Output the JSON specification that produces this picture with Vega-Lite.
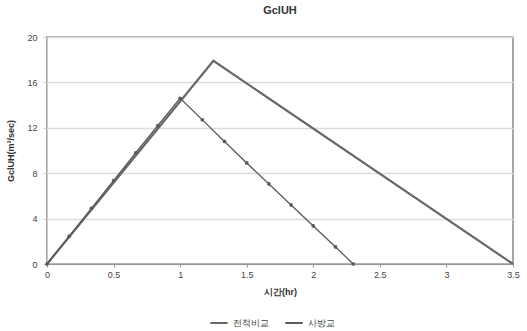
{
  "$schema": "https://vega.github.io/schema/vega-lite/v6.json",
  "autosize": "none",
  "width": 466,
  "height": 227,
  "padding": {"left": 47, "top": 37, "right": 14, "bottom": 67},
  "background": "white",
  "config": {
    "font": "Liberation Sans",
    "view": {"stroke": "#8a8a8a", "strokeWidth": 1.5}
  },
  "title": {"text": "GclUH", "fontSize": 11, "fontWeight": "bold", "color": "#333", "anchor": "middle", "offset": 17, "font": "Liberation Sans"},
  "data": {
    "values": [
      {"t": 0, "q": 0, "s": "전적비교"},
      {"t": 1.25, "q": 17.9, "s": "전적비교"},
      {"t": 3.5, "q": 0, "s": "전적비교"},
      {"t": 0, "q": 0, "s": "사방교"},
      {"t": 0.167, "q": 2.45, "s": "사방교"},
      {"t": 0.333, "q": 4.9, "s": "사방교"},
      {"t": 0.5, "q": 7.35, "s": "사방교"},
      {"t": 0.667, "q": 9.8, "s": "사방교"},
      {"t": 0.833, "q": 12.2, "s": "사방교"},
      {"t": 1.0, "q": 14.6, "s": "사방교"},
      {"t": 1.167, "q": 12.7, "s": "사방교"},
      {"t": 1.333, "q": 10.8, "s": "사방교"},
      {"t": 1.5, "q": 8.9, "s": "사방교"},
      {"t": 1.667, "q": 7.05, "s": "사방교"},
      {"t": 1.833, "q": 5.2, "s": "사방교"},
      {"t": 2.0, "q": 3.35, "s": "사방교"},
      {"t": 2.167, "q": 1.5, "s": "사방교"},
      {"t": 2.3, "q": 0, "s": "사방교"}
    ]
  },
  "encoding": {
    "x": {
      "field": "t", "type": "quantitative",
      "scale": {"domain": [0, 3.5], "nice": false},
      "axis": {
        "title": "시간(hr)", "titleFontSize": 9, "titleFontWeight": "bold", "titleColor": "#333", "titlePadding": 8,
        "values": [0, 0.5, 1, 1.5, 2, 2.5, 3, 3.5], "format": "~g", "labelFontSize": 9, "labelColor": "#444",
        "grid": false, "domainColor": "#999", "tickColor": "#999", "tickSize": 3, "labelPadding": 3,
        "labelFlush": false
      }
    },
    "y": {
      "field": "q", "type": "quantitative",
      "scale": {"domain": [0, 20], "nice": false},
      "axis": {
        "title": "GclUH(m³/sec)", "titleFontSize": 9, "titleFontWeight": "bold", "titleColor": "#333", "titlePadding": 11,
        "values": [0, 4, 8, 12, 16, 20], "labelFontSize": 9, "labelColor": "#444",
        "grid": true, "gridColor": "#dcdcdc", "gridWidth": 1.5,
        "domainColor": "#c8c8c8", "tickColor": "#c8c8c8", "tickSize": 4, "labelPadding": 6
      }
    },
    "color": {
      "field": "s", "type": "nominal",
      "scale": {"domain": ["전적비교", "사방교"], "range": ["#686868", "#5a5a5a"]},
      "legend": {
        "orient": "none", "legendX": 162, "legendY": 276, "direction": "horizontal",
        "title": null, "symbolType": "stroke", "symbolSize": 300, "symbolStrokeWidth": 2,
        "labelFontSize": 9, "labelColor": "#444", "columnPadding": 12, "symbolOffset": 0
      }
    }
  },
  "layer": [
    {
      "mark": {"type": "line", "strokeWidth": 2.2},
      "transform": [{"filter": "datum.s === '전적비교'"}]
    },
    {
      "mark": {"type": "line", "strokeWidth": 1.3},
      "transform": [{"filter": "datum.s === '사방교'"}]
    },
    {
      "mark": {"type": "point", "filled": true, "size": 14, "opacity": 1},
      "transform": [{"filter": "datum.s === '사방교'"}]
    }
  ]
}
